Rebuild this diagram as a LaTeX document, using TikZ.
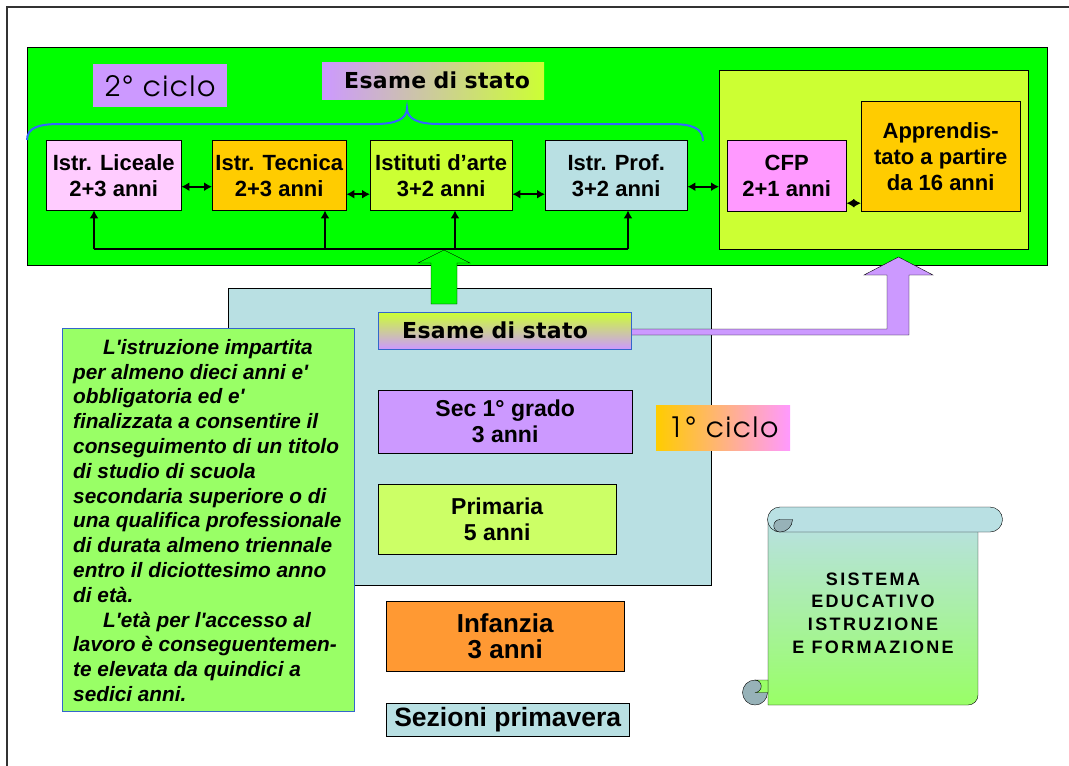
\documentclass[tikz,border=0pt]{standalone}
\usepackage{fontspec}
\setmainfont{Liberation Sans}
\newfontfamily\gothfont{TeX Gyre Adventor}
\newfontfamily\examfamily{DejaVu Sans}
\usetikzlibrary{positioning,arrows.meta}
\definecolor{vivid}{HTML}{00FF00}
\definecolor{lilac}{HTML}{CC99FF}
\definecolor{lime}{HTML}{CCFF33}
\definecolor{blush}{HTML}{FFCCFF}
\definecolor{gold}{HTML}{FFCC00}
\definecolor{pale}{HTML}{B9E0E3}
\definecolor{orchid}{HTML}{FF99FF}
\definecolor{mint}{HTML}{99FF66}
\definecolor{primcol}{HTML}{CCFF66}
\definecolor{tangerine}{HTML}{FF9933}
\definecolor{bracecol}{HTML}{3366FF}
\definecolor{edgeblue}{HTML}{3366CC}
\definecolor{curlcol}{HTML}{97B2B8}
\newcommand{\boxfont}[1]{\bfseries\fontsize{#1}{26}\selectfont}

\begin{document}
\begin{tikzpicture}[x=1pt,y=-1pt,
  box/.style={draw, anchor=north west, inner sep=0pt, align=center, font=\boxfont{22}},
  tag/.style={anchor=north west, inner sep=0pt, font=\gothfont\fontsize{28}{30}\selectfont\addfontfeatures{LetterSpace=6}},
  exam/.style={anchor=north west, inner sep=0pt, align=left,
    font=\examfamily\bfseries\fontsize{22}{24}\selectfont\addfontfeatures{LetterSpace=1.5}},
  link/.style={line width=1.6pt, {Latex[length=8pt,width=9pt]}-{Latex[length=8pt,width=9pt]}},
  up/.style={line width=1.6pt, -{Latex[length=8pt,width=9pt]}}]
  \useasboundingbox (0,0) rectangle (1069,766);

  % frame of the page
  \draw[line width=2pt, black!80] (7,766) -- (7,7) -- (1069,7);

  % 2 ciclo
  \node (second) [draw, fill=vivid, anchor=north west, inner sep=0pt,
    minimum width=1020, minimum height=218] at (27,47) {};
  \node (secondtag) [tag, fill=lilac, minimum width=134, minimum height=43] at (93,64) {2° ciclo};
  \node (examtop) [exam, left color=lilac, right color=lime, text width=222, minimum height=37]
    at (322,62) {\hspace*{22pt}Esame di stato};
  \draw[bracecol, line width=2pt] (27,140) .. controls (27,127) and (40,124) .. (60,124)
    -- (375,124) .. controls (396,124) and (407,119) .. (407,108)
    .. controls (407,119) and (418,124) .. (439,124)
    -- (670,124) .. controls (692,124) and (703,128) .. (703,141);

  \node (lic) [box, fill=blush, minimum width=135, minimum height=70] at (46,140) {Istr. Liceale\\2+3 anni};
  \node (tec) [box, fill=gold, minimum width=134, minimum height=70] at (212,140) {Istr. Tecnica\\2+3 anni};
  \node (arte) [box, fill=lime, minimum width=142, minimum height=70] at (370,140) {Istituti d’arte\\3+2 anni};
  \node (prof) [box, fill=pale, minimum width=142, minimum height=70] at (545,140) {Istr. Prof.\\3+2 anni};

  \node (cfpzone) [box, fill=lime, minimum width=309, minimum height=179] at (719,70) {};
  \node (cfp) [box, fill=orchid, minimum width=119, minimum height=71] at (727,140) {CFP\\2+1 anni};
  \node (appr) [box, fill=gold, minimum width=159, minimum height=110] at (861,101) {Apprendis-\\tato a partire\\da 16 anni};

  \draw[link] ([yshift=-11.5pt]lic.east) -- ([yshift=-11.5pt]tec.west);
  \draw[link] ([yshift=-19pt]tec.east) -- ([yshift=-19pt]arte.west);
  \draw[link] ([yshift=-19pt]arte.east) -- ([yshift=-19pt]prof.west);
  \draw[link] ([yshift=-11.5pt]prof.east) -- ([yshift=-11.5pt]cfpzone.west |- prof.east);
  \draw[link] ([yshift=-27.5pt]cfp.east) -- ([yshift=-27.5pt]appr.west |- cfp.east);

  \coordinate (busL) at (94,249);
  \coordinate (busR) at (628,249);
  \draw[line width=1.6pt] (busL) -- (busR);
  \draw[up] (busL) -- (busL |- lic.south);
  \draw[up] (busL -| 325,0) -- (325,0 |- tec.south);
  \draw[up] (busL -| 455,0) -- (455,0 |- arte.south);
  \draw[up] (busR) -- (busR |- prof.south);

  % 1 ciclo
  \node (first) [draw, fill=pale, anchor=north west, inner sep=0pt,
    minimum width=483, minimum height=297] at (228,288) {};
  \draw[fill=vivid] (431,304) -- (431,263) -- (418,263) -- (444,250) -- (470,263)
    -- (457,263) -- (457,304) -- cycle;
  \draw[fill=lilac] (631,329) -- (887,329) -- (887,275) -- (864,275) -- (898.5,257)
    -- (933,275) -- (909,275) -- (909,335) -- (631,335) -- cycle;
  \node (examlow) [exam, draw=edgeblue, top color=lime, bottom color=lilac,
    text width=253, minimum height=37] at (378,312) {\hspace*{24pt}Esame di stato};
  \node (sec) [box, fill=lilac, minimum width=254, minimum height=63, font=\boxfont{23}] at (378,390) {Sec 1° grado\\3 anni};
  \node (prim) [box, fill=primcol, minimum width=238, minimum height=70, font=\boxfont{23}] at (378,484) {Primaria\\5 anni};
  \node (firsttag) [tag, left color=gold, right color=orchid, minimum width=134, minimum height=45] at (656,405) {1° ciclo};
  \node (inf) [box, fill=tangerine, minimum width=238, minimum height=70, font=\boxfont{26}] at (386,601) {Infanzia\\3 anni};
  \node (sez) [box, fill=pale, minimum width=243, minimum height=33, font=\boxfont{26.5}] at (386,703) {Sezioni primavera};

  % testo sull'obbligo
  \node (obbl) [draw=edgeblue, fill=mint, anchor=north west, inner sep=0pt,
    minimum width=292, minimum height=383] at (62,328) {};
  \node (obbltext) [anchor=north west, inner sep=0pt, align=left,
    font=\bfseries\itshape\fontsize{20.8}{24.8}\selectfont] at (73,339) {%
    \hspace*{30pt}L\textquotesingle istruzione impartita\\
    per almeno dieci anni e\textquotesingle\\
    obbligatoria ed e\textquotesingle\\
    finalizzata a consentire il\\
    conseguimento di un titolo\\
    di studio di scuola\\
    secondaria superiore o di\\
    una qualifica professionale\\
    di durata almeno triennale\\
    entro il diciottesimo anno\\
    di età.\\
    \hspace*{30pt}L\textquotesingle età per l\textquotesingle accesso al\\
    lavoro è conseguentemen-\\
    te elevata da quindici a\\
    sedici anni.};

  % pergamena
  \draw[top color=pale, bottom color=mint] (768,520) -- (768,705) -- (968,705)
    arc (90:0:10) -- (978,520) -- cycle;
  \filldraw[fill=curlcol] (755,692.5) circle (12.5);
  \filldraw[fill=mint] (768,692.5) -- (755,692.5) arc (90:-90:6.25) -- (768,680) -- cycle;
  \draw[fill=pale] (780,507) -- (990,507) arc (270:450:12.5) -- (780,532)
    arc (90:270:12.5) -- cycle;
  \filldraw[fill=curlcol] (792.5,519.5) -- (780,519.5) arc (270:90:6.25) -- (780,532)
    arc (90:0:12.5) -- cycle;
  \node (scrolltext) [align=center, font=\bfseries\fontsize{18}{22.7}\selectfont\addfontfeatures{LetterSpace=13}]
    at (873,613) {SISTEMA\\EDUCATIVO\\ISTRUZIONE\\E FORMAZIONE};
\end{tikzpicture}
\end{document}
